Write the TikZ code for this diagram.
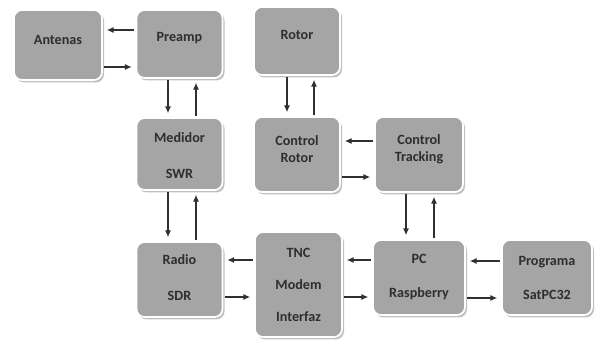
\documentclass[tikz,border=0pt]{standalone}
\usepackage{fontspec}
\setmainfont{Carlito}
\usetikzlibrary{shadows,arrows.meta}
\definecolor{boxfill}{HTML}{A5A5A5}
\definecolor{txt}{HTML}{2E2E2E}
\definecolor{arrc}{HTML}{303030}
\begin{document}
\begin{tikzpicture}[x=0.75pt,y=-0.75pt,
  box/.style={draw=white, line width=1.3pt, fill=boxfill, rounded corners=6pt,
    drop shadow={shadow xshift=1.5pt, shadow yshift=-1.8pt, fill=black!40, opacity=0.6},
    inner sep=0pt},
  lbl/.style={font=\bfseries\fontsize{10.6}{12.5}\selectfont, text=txt, inner sep=0pt, align=center},
  arr/.style={draw=arrc, line width=0.8pt, -{Latex[length=5pt,width=4.5pt]}, shorten >=3pt, shorten <=1pt}
]
\useasboundingbox[fill=white] (0,0) rectangle (602,345);
\newcommand{\mkbox}[5]{\node[box, minimum width=#4*0.75pt, minimum height=#5*0.75pt] (#1) at (#2,#3) {};}
% boxes
\mkbox{antenas}{58}{45}{88}{70}
\mkbox{preamp}{179.5}{44}{86}{68}
\mkbox{medidor}{179.5}{154}{86}{72}
\mkbox{radio}{179.5}{279.5}{86}{75}
\mkbox{rotor}{297}{41}{86}{68}
\mkbox{crotor}{297}{154.5}{86}{75}
\mkbox{ctrack}{419}{154.5}{88}{75}
\mkbox{tnc}{298.5}{284.5}{87}{105}
\mkbox{pc}{419}{277.5}{92}{75}
\mkbox{prog}{547}{277.5}{90}{75}
% labels
\node[lbl] (antenas-t) at (58,40) {Antenas};
\node[lbl] (preamp-t) at (179.5,38) {Preamp};
\node[lbl] (medidor-t) at (179.5,155.5) {Medidor\\[14pt]SWR};
\node[lbl] (radio-t) at (179.5,277.5) {Radio\\[14pt]SDR};
\node[lbl] (rotor-t) at (297,35) {Rotor};
\node[lbl] (crotor-t) at (297,149) {Control\\[0.5pt]Rotor};
\node[lbl] (ctrack-t) at (419,149) {Control\\[0.5pt]Tracking};
\node[lbl] (tnc-t) at (298.5,285) {TNC\\[11.5pt]Modem\\[11.5pt]Interfaz};
\node[lbl] (pc-t) at (419,277) {PC\\[13pt]Raspberry};
\node[lbl] (prog-t) at (547,277.5) {Programa\\[13pt]SatPC32};
% arrows
\draw[arr] (preamp.west|-{0,30}) -- (antenas.east|-{0,30});
\draw[arr] (antenas.east|-{0,67}) -- (preamp.west|-{0,67});
\draw[arr] (preamp.south-|{168,0}) -- (medidor.north-|{168,0});
\draw[arr] (medidor.north-|{196,0}) -- (preamp.south-|{196,0});
\draw[arr] (medidor.south-|{168,0}) -- (radio.north-|{168,0});
\draw[arr] (radio.north-|{196,0}) -- (medidor.south-|{196,0});
\draw[arr] (rotor.south-|{287,0}) -- (crotor.north-|{287,0});
\draw[arr] (crotor.north-|{314,0}) -- (rotor.south-|{314,0});
\draw[arr] (ctrack.west|-{0,141}) -- (crotor.east|-{0,141});
\draw[arr] (crotor.east|-{0,177}) -- (ctrack.west|-{0,177});
\draw[arr] (ctrack.south-|{406,0}) -- (pc.north-|{406,0});
\draw[arr] (pc.north-|{434,0}) -- (ctrack.south-|{434,0});
\draw[arr] (tnc.west|-{0,260}) -- (radio.east|-{0,260});
\draw[arr] (radio.east|-{0,297}) -- (tnc.west|-{0,297});
\draw[arr] (pc.west|-{0,260}) -- (tnc.east|-{0,260});
\draw[arr] (tnc.east|-{0,297}) -- (pc.west|-{0,297});
\draw[arr] (prog.west|-{0,261}) -- (pc.east|-{0,261});
\draw[arr] (pc.east|-{0,298}) -- (prog.west|-{0,298});
\end{tikzpicture}
\end{document}
